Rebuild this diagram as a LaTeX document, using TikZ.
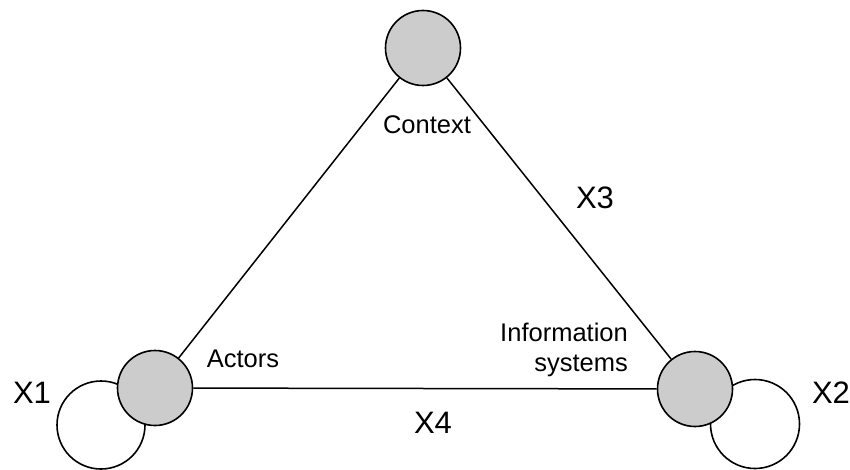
\documentclass[tikz,border=0pt]{standalone}
\usepackage{fontspec}
\setmainfont{Liberation Sans}
\begin{document}
\begin{tikzpicture}[x=1pt,y=-1pt,
  entity/.style={circle,draw=black,fill=black!20,line width=1.6pt,
    minimum size=75pt,inner sep=0pt},
  loopring/.style={circle,draw=black,fill=white,line width=1.6pt,inner sep=0pt},
  link/.style={draw=black,line width=1.5pt},
  lbl/.style={font=\fontsize{25.5}{29.5}\selectfont,anchor=base,inner sep=0pt},
  xlbl/.style={font=\fontsize{31}{35}\selectfont,anchor=base,inner sep=0pt}]
  \useasboundingbox (0,0) rectangle (850,470);

  % self-relation rings, behind the entities
  \node[loopring,minimum size=88pt] (ring1) at (101,425) {};
  \node[loopring,minimum size=89pt] (ring2) at (755,424) {};

  % entities
  \node[entity] (ctx) at (423,48) {};
  \node[entity] (act) at (155,388) {};
  \node[entity] (inf) at (695,389) {};

  % relations between entities
  \draw[link] (ctx) -- (act);
  \draw[link] (ctx) -- (inf);
  \draw[link] (act) -- (inf);

  % entity labels
  \node[lbl] (tctx) at (427,134) {Context};
  \node[lbl] (tact) at (243,367) {Actors};
  \node[lbl,anchor=base east,align=right] (tinf) at (628,371)
    {Information\\systems};

  % relation labels
  \node[xlbl] (x1) at (32,403) {X1};
  \node[xlbl] (x2) at (831,403) {X2};
  \node[xlbl] (x3) at (595,208) {X3};
  \node[xlbl] (x4) at (433,433) {X4};
\end{tikzpicture}
\end{document}
